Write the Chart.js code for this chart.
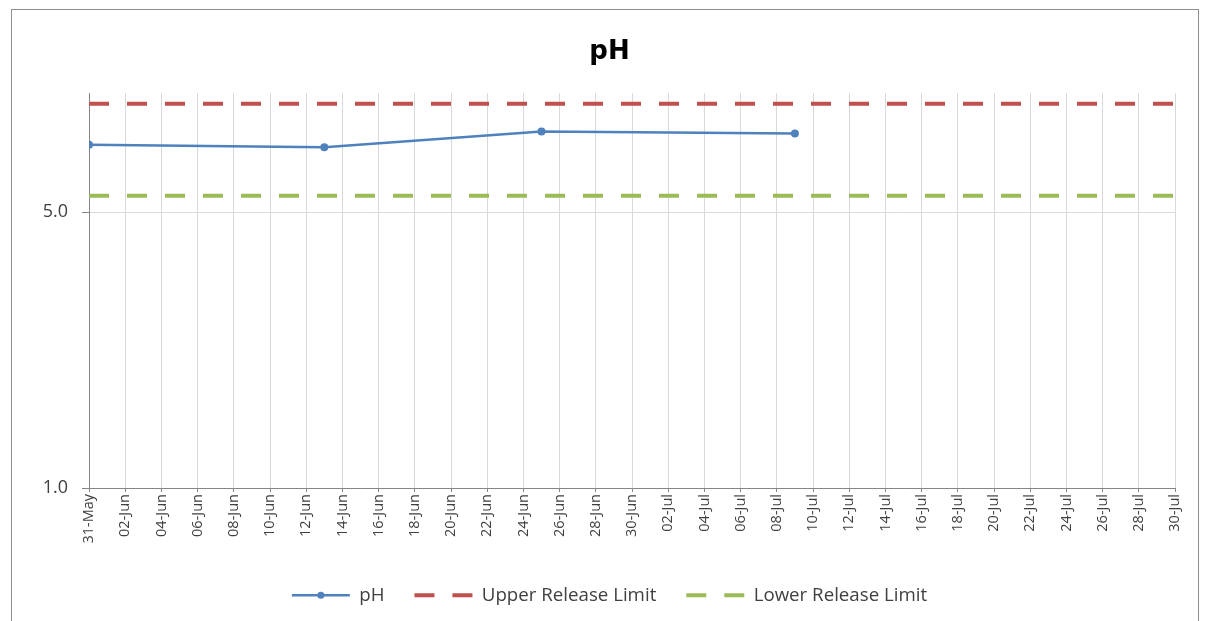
<!DOCTYPE html>
<html>
<head>
<meta charset="utf-8">
<title>pH</title>
<script src="https://cdn.jsdelivr.net/npm/chart.js@4.4.0/dist/chart.umd.min.js"></script>
<style>
  html, body { margin: 0; padding: 0; background: #fff; }
</style>
</head>
<body>
<canvas id="myChart" width="1207" height="621"></canvas>
<script>
var monthNames = ["Jan","Feb","Mar","Apr","May","Jun","Jul","Aug","Sep","Oct","Nov","Dec"];

// x axis range (dates, dd-Mon)
var axisStart = "31-May";
var axisEnd = "30-Jul";
var tickStepDays = 2;

// pH samples
var sampleDates = ["31-May", "13-Jun", "25-Jun", "09-Jul"];
var phValues = [7.4, 7.3, 8.0, 7.9];

// release limits, drawn across the whole axis
var limitDates = ["31-May", "30-Jul"];
var upperLimit = [9.4, 9.4];
var lowerLimit = [5.5, 5.5];

// y axis (log)
var yMin = 1;
var yMax = 10;
var yTicks = [1, 5];

var seriesNames = ["pH", "Upper Release Limit", "Lower Release Limit"];
var seriesColors = ["#4F81BD", "#C0504D", "#9BBB59"];

var DAY = 86400000;

function toTime(label)
{
  var parts = label.split("-");
  return Date.UTC(2015, monthNames.indexOf(parts[1]), parseInt(parts[0], 10));
}

function dayOffset(label)
{
  return Math.round((toTime(label) - toTime(axisStart)) / DAY);
}

function dayLabel(offset)
{
  var d = new Date(toTime(axisStart) + offset * DAY);
  var dd = d.getUTCDate();
  return (dd < 10 ? "0" + dd : "" + dd) + "-" + monthNames[d.getUTCMonth()];
}

function points(dates, values)
{
  return dates.map(function (d, i) { return {x: dayOffset(d), y: values[i]}; });
}

var axisGrey = "#868686";
var gridGrey = "#d9d9d9";
var textGrey = "#404040";

var framePlugin = {
  id: "frame",
  beforeInit: function (chart) {
    // keep legend text gaps wide without making the legend box tall
    var legend = chart.legend;
    var fit = legend.fit;
    legend.fit = function () {
      fit.call(this);
      this.height = 60;
    };
  },
  beforeDraw: function (chart) {
    var ctx = chart.ctx;
    ctx.save();
    ctx.fillStyle = "#ffffff";
    ctx.fillRect(0, 0, chart.width, chart.height);
    ctx.strokeStyle = "#8f8f8f";
    ctx.lineWidth = 1;
    ctx.strokeRect(11.5, 9.5, 1187, 700);
    ctx.restore();
  },
  afterDraw: function (chart) {
    // marker in the middle of the pH legend line
    var box = chart.legend.legendHitBoxes[0];
    if (!box) return;
    var ctx = chart.ctx;
    var bw = chart.legend.options.labels.pointStyleWidth;
    var fs = chart.legend.options.labels.font.size;
    ctx.save();
    ctx.fillStyle = seriesColors[0];
    ctx.beginPath();
    ctx.arc(box.left + bw / 2, box.top + fs / 2, 3.5, 0, Math.PI * 2);
    ctx.fill();
    ctx.restore();
  }
};

new Chart("myChart", {
  type: "line",
  data: {
    datasets: [{
      label: seriesNames[0],
      data: points(sampleDates, phValues),
      borderColor: seriesColors[0],
      backgroundColor: seriesColors[0],
      borderWidth: 2.5,
      pointRadius: 4,
      pointBorderWidth: 0,
      tension: 0
    }, {
      label: seriesNames[1],
      data: points(limitDates, upperLimit),
      borderColor: seriesColors[1],
      backgroundColor: seriesColors[1],
      borderWidth: 4,
      borderDash: [20, 18],
      borderCapStyle: "butt",
      pointRadius: 0
    }, {
      label: seriesNames[2],
      data: points(limitDates, lowerLimit),
      borderColor: seriesColors[2],
      backgroundColor: seriesColors[2],
      borderWidth: 4,
      borderDash: [20, 18],
      borderCapStyle: "butt",
      pointRadius: 0
    }]
  },
  options: {
    responsive: false,
    animation: false,
    devicePixelRatio: 1,
    layout: {padding: {top: 10, left: 44, right: 32, bottom: 5}},
    scales: {
      x: {
        type: "linear",
        min: 0,
        max: dayOffset(axisEnd),
        afterBuildTicks: function (scale) {
          var t = [];
          for (var v = 0; v <= dayOffset(axisEnd); v += tickStepDays) t.push({value: v});
          scale.ticks = t;
        },
        afterFit: function (scale) { scale.height = 68; },
        ticks: {
          autoSkip: false,
          maxRotation: 90,
          minRotation: 90,
          padding: 2,
          color: textGrey,
          font: {family: "Open Sans", size: 14.5},
          callback: function (v) { return dayLabel(v); }
        },
        grid: {color: gridGrey, tickLength: 4, tickColor: axisGrey},
        border: {color: axisGrey, width: 1}
      },
      y: {
        type: "logarithmic",
        min: yMin,
        max: yMax,
        afterBuildTicks: function (scale) {
          scale.ticks = yTicks.map(function (v) { return {value: v}; });
        },
        afterFit: function (scale) { scale.width = 45; },
        ticks: {
          padding: 14,
          color: textGrey,
          font: {family: "Open Sans", size: 18},
          callback: function (v) { return Number(v).toFixed(1); }
        },
        grid: {color: gridGrey, tickLength: 7, tickColor: axisGrey},
        border: {color: axisGrey, width: 1}
      }
    },
    plugins: {
      title: {
        display: true,
        text: "pH",
        color: "#000000",
        font: {family: "DejaVu Sans", size: 26, weight: "bold"},
        padding: {top: 27, bottom: 25}
      },
      legend: {
        position: "bottom",
        labels: {
          usePointStyle: true,
          pointStyleWidth: 58,
          padding: 30,
          color: textGrey,
          font: {family: "Open Sans", size: 18.7},
          generateLabels: function (chart) {
            return Chart.defaults.plugins.legend.labels.generateLabels(chart).map(function (item) {
              var ds = chart.data.datasets[item.datasetIndex];
              item.pointStyle = "line";
              item.lineCap = "butt";
              item.lineWidth = ds.borderWidth;
              item.lineDash = ds.borderDash || [];
              item.strokeStyle = ds.borderColor;
              return item;
            });
          }
        }
      },
      tooltip: {enabled: false}
    }
  },
  plugins: [framePlugin]
});
</script>
</body>
</html>
